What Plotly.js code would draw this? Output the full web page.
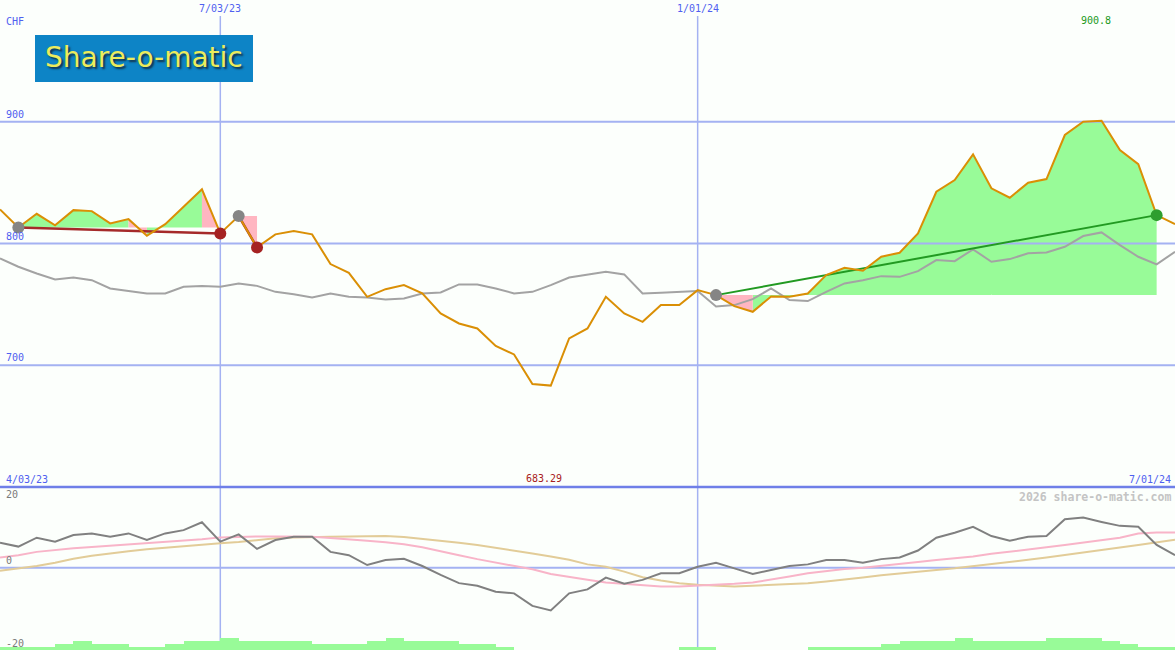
<!DOCTYPE html>
<html>
<head>
<meta charset="utf-8">
<script src="https://cdn.plot.ly/plotly-3.0.1.min.js"></script>
<style>
html,body{margin:0;padding:0;background:#fcfffc;}
#chart{width:1175px;height:650px;}
</style>
</head>
<body>
<div id="chart"></div>
<script>
// ---------- DATA ----------
const dates = [
 '2023-04-10','2023-04-17','2023-04-24','2023-05-01','2023-05-08','2023-05-15','2023-05-22','2023-05-29',
 '2023-06-05','2023-06-12','2023-06-19','2023-06-26','2023-07-03','2023-07-10','2023-07-17','2023-07-24',
 '2023-07-31','2023-08-07','2023-08-14','2023-08-21','2023-08-28','2023-09-04','2023-09-11','2023-09-18',
 '2023-09-25','2023-10-02','2023-10-09','2023-10-16','2023-10-23','2023-10-30','2023-11-06','2023-11-13',
 '2023-11-20','2023-11-27','2023-12-04','2023-12-11','2023-12-18','2023-12-25','2024-01-01','2024-01-08',
 '2024-01-15','2024-01-22','2024-01-29','2024-02-05','2024-02-12','2024-02-19','2024-02-26','2024-03-04',
 '2024-03-11','2024-03-18','2024-03-25','2024-04-01','2024-04-08','2024-04-15','2024-04-22','2024-04-29',
 '2024-05-06','2024-05-13','2024-05-20','2024-05-27','2024-06-03','2024-06-10','2024-06-17','2024-06-24',
 '2024-07-01'];

// share price (CHF)
const price = [828.0, 813.2, 824.4, 814.9, 827.4, 826.6, 816.5, 820.0, 806.3, 815.9,
 830.2, 844.5, 808.3, 822.5, 796.8, 807.5, 810.2, 807.5, 783.1, 775.9,
 756.2, 762.5, 765.8, 759.0, 742.6, 734.3, 730.2, 715.9, 708.9, 684.5,
 683.29, 722.0, 730.2, 756.2, 742.6, 735.7, 749.4, 749.4, 761.7, 757.6,
 748.6, 743.9, 756.5, 756.2, 758.9, 774.0, 780.0, 777.6, 789.1, 792.4,
 808.3, 842.5, 852.1, 873.2, 845.3, 837.6, 849.9, 852.9, 889.1, 900.0,
 900.8, 876.7, 865.2, 823.3, 815.9];

// grey comparison line (main panel)
const bench = [787.8, 780.9, 775.4, 770.5, 772.1, 769.9, 763.1, 761.1, 759.0, 759.0,
 764.4, 765.0, 764.4, 767.2, 765.2, 760.3, 758.4, 755.7, 759.0, 756.2,
 755.7, 754.1, 754.9, 759.0, 759.8, 766.4, 766.4, 763.1, 759.0, 760.3,
 765.8, 772.1, 774.6, 776.7, 774.6, 759.0, 759.5, 760.3, 760.9, 748.3,
 749.4, 754.3, 763.1, 753.5, 752.7, 760.3, 767.2, 769.9, 773.2, 772.6,
 777.3, 786.4, 785.5, 795.2, 785.0, 787.2, 791.9, 792.7, 797.3, 806.1,
 809.1, 798.7, 789.1, 782.8, 793.2];

// lower panel: momentum (dark grey), fast average (pink), slow average (tan)
const momentum = [7.6, 6.4, 9.1, 7.9, 9.9, 10.4, 9.4, 10.4, 8.4, 10.4,
 11.4, 13.8, 7.9, 10.1, 5.7, 8.4, 9.4, 9.4, 4.8, 3.8,
 0.8, 2.3, 2.7, 0.5, -2.2, -4.7, -5.5, -7.3, -7.8, -11.6,
 -13.0, -7.8, -6.6, -3.0, -4.9, -3.7, -1.7, -1.7, 0.3, 1.5,
 -0.2, -1.9, -0.7, 0.5, 1.0, 2.3, 2.3, 1.5, 2.6, 3.1,
 5.2, 9.1, 10.6, 12.4, 9.6, 8.2, 9.4, 9.6, 14.7, 15.2,
 13.9, 12.7, 12.4, 6.9, 3.8];
const fastAvg = [3.1, 3.8, 4.8, 5.4, 5.9, 6.3, 6.7, 7.0, 7.4, 7.8,
 8.1, 8.6, 9.2, 9.4, 9.5, 9.5, 9.5, 9.4, 9.0, 8.7,
 8.2, 7.7, 7.1, 6.2, 4.9, 3.8, 2.6, 1.5, 0.6, -0.5,
 -1.9, -2.9, -3.7, -4.5, -4.9, -5.5, -5.7, -5.7, -5.5, -5.2,
 -4.9, -4.5, -3.7, -2.7, -1.7, -1.0, -0.4, 0.0, 0.5, 1.1,
 1.7, 2.3, 2.8, 3.4, 4.2, 4.8, 5.5, 6.2, 6.9, 7.6,
 8.3, 9.1, 10.4, 10.7, 10.7];
const slowAvg = [-0.9, -0.2, 0.5, 1.5, 2.7, 3.6, 4.4, 5.0, 5.6, 6.1,
 6.6, 7.0, 7.4, 7.8, 8.4, 8.9, 9.2, 9.4, 9.4, 9.5,
 9.6, 9.6, 9.3, 8.8, 8.2, 7.6, 6.9, 6.1, 5.2, 4.3,
 3.4, 2.4, 1.0, 0.3, -1.2, -2.9, -3.9, -4.7, -5.2, -5.5,
 -5.7, -5.5, -5.3, -5.0, -4.7, -4.2, -3.7, -3.0, -2.3, -1.7,
 -1.2, -0.7, -0.2, 0.4, 1.0, 1.7, 2.4, 3.1, 3.8, 4.5,
 5.3, 6.1, 6.9, 7.7, 8.5];

// weekly activity bars (one per week, starting at that week)
const activity = [1,1,1,2,3,2,2,1,1,2, 3,3,4,3,3,3,3,2,2,2, 3,4,3,3,3,2,2,1,0,0,
 0,0,0,0,0,0,0,1,1,0, 0,0,0,0,1,1,1,1,2,3, 3,3,4,3,3,3,3,4,4,4, 3,2,1,1];

// trend signals (index into dates)
const trendStart = [1, 13, 39];
const trendEnd   = [12, 14, 63];
// fill colour per weekly segment inside each trend: g = green, p = pink
const trendSegFill = ['ggggggpgggp', 'p', 'ppgggggggggggggggggggggg'];

// axes labels
const priceTicks = [700, 800, 900];
const lowerTicks = [20, 0, -20];
const markDates  = ['2023-07-03', '2024-01-01'];
const markLabels = ['7/03/23', '1/01/24'];
const startLabel = '4/03/23';
const endLabel   = '7/01/24';
const currency   = 'CHF';

// ---------- BUILD ----------
const W = 1175, H = 650;
const PX = x => x / W, PY = y => 1 - y / H;
const xRange = ['2023-04-10', '2024-07-01'];
const BLUE = '#a4b2f2', LABEL = '#4f60f0', MONO = 'DejaVu Sans Mono';
const splitY = PY(487);

const traces = [];

// fills
const fillG = {x: [], y: []}, fillP = {x: [], y: []};
trendStart.forEach((s, t) => {
  const base = price[s];
  for (let i = s; i < trendEnd[t]; i++) {
    const tgt = trendSegFill[t][i - s] === 'g' ? fillG : fillP;
    tgt.x.push(dates[i], dates[i + 1], dates[i + 1], dates[i], null);
    tgt.y.push(price[i], price[i + 1], base, base, null);
  }
});
traces.push({x: fillG.x, y: fillG.y, mode: 'lines', fill: 'toself', fillcolor: '#98fb98',
  line: {width: 0}, hoverinfo: 'skip', connectgaps: false});
traces.push({x: fillP.x, y: fillP.y, mode: 'lines', fill: 'toself', fillcolor: '#ffb6c1',
  line: {width: 0}, hoverinfo: 'skip', connectgaps: false});

// horizontal price grid lines (drawn above fills)
priceTicks.forEach(v => traces.push({x: xRange, y: [v, v], mode: 'lines',
  line: {color: BLUE, width: 2}, hoverinfo: 'skip'}));

// grey comparison
traces.push({x: dates, y: bench, mode: 'lines', line: {color: '#a3a3a3', width: 2}, hoverinfo: 'skip'});

// trend lines
trendStart.forEach((s, t) => {
  const e = trendEnd[t];
  const up = price[e] >= price[s];
  traces.push({x: [dates[s], dates[e]], y: [price[s], price[e]], mode: 'lines',
    line: {color: up ? '#229a22' : '#a52a2a', width: up ? 2 : 2.5}, hoverinfo: 'skip'});
});

// price
traces.push({x: dates, y: price, mode: 'lines', line: {color: '#da8f05', width: 2}, hoverinfo: 'skip'});

// markers
const mX = [], mY = [], mC = [];
trendStart.forEach((s, t) => {
  const e = trendEnd[t];
  mX.push(dates[s]); mY.push(price[s]); mC.push('#858585');
  mX.push(dates[e]); mY.push(price[e]); mC.push(price[e] >= price[s] ? '#2e9e2e' : '#a52222');
});
traces.push({x: mX, y: mY, mode: 'markers', marker: {size: 12, color: mC}, hoverinfo: 'skip'});

// lower panel
traces.push({x: dates.slice(0, activity.length), y: activity, type: 'bar', yaxis: 'y3',
  marker: {color: '#98fb98', line: {width: 0}}, width: 7 * 86400000, offset: 0, hoverinfo: 'skip'});
traces.push({x: dates, y: slowAvg, yaxis: 'y2', mode: 'lines', line: {color: '#e2cc98', width: 2}, hoverinfo: 'skip'});
traces.push({x: dates, y: fastAvg, yaxis: 'y2', mode: 'lines', line: {color: '#f8b4c8', width: 2}, hoverinfo: 'skip'});
traces.push({x: dates, y: momentum, yaxis: 'y2', mode: 'lines', line: {color: '#808080', width: 2}, hoverinfo: 'skip'});

// shapes
const shapes = [];
markDates.forEach(d => shapes.push({type: 'line', xref: 'x', yref: 'paper', x0: d, x1: d,
  y0: 0, y1: PY(16), line: {color: BLUE, width: 1.5}, layer: 'below'}));
shapes.push({type: 'line', xref: 'paper', yref: 'y2', x0: 0, x1: 1, y0: 0, y1: 0,
  line: {color: BLUE, width: 2}, layer: 'below'});
shapes.push({type: 'line', xref: 'paper', yref: 'paper', x0: 0, x1: 1, y0: splitY, y1: splitY,
  line: {color: '#6f7fe8', width: 2.5}, layer: 'above'});
shapes.push({type: 'rect', xref: 'paper', yref: 'paper', x0: PX(35), x1: PX(253), y0: PY(82), y1: PY(35),
  fillcolor: '#0d84c6', line: {width: 0}, layer: 'above'});

// annotations
const ann = [];
const txt = (text, x, y, xa, ya, color, extra) => Object.assign({text, x, y, xref: 'paper', yref: 'paper',
  xanchor: xa, yanchor: ya, showarrow: false, font: {family: MONO, size: 10, color}, borderpad: 0}, extra || {});

priceTicks.forEach(v => ann.push({text: String(v), xref: 'paper', yref: 'y', x: PX(5), y: v,
  xanchor: 'left', yanchor: 'bottom', showarrow: false, borderpad: 0, yshift: 1,
  font: {family: MONO, size: 10, color: LABEL}}));
lowerTicks.forEach(v => ann.push({text: String(v), xref: 'paper', yref: 'y2', x: PX(5), y: v,
  xanchor: 'left', yanchor: v < 0 ? 'top' : 'bottom', showarrow: false, borderpad: 0, yshift: v < 0 ? -3 : 1,
  font: {family: MONO, size: 10, color: '#7a7a7a'}}));
markDates.forEach((d, i) => ann.push({text: markLabels[i], xref: 'x', yref: 'paper', x: d, y: 1,
  xanchor: 'center', yanchor: 'top', yshift: -2, showarrow: false, borderpad: 0,
  font: {family: MONO, size: 10, color: LABEL}}));
ann.push(txt(currency, PX(5), PY(21.5), 'left', 'middle', LABEL));
ann.push(txt(startLabel, PX(5), PY(479), 'left', 'middle', LABEL));
ann.push(txt(endLabel, PX(1172), PY(479), 'right', 'middle', LABEL));

// max / min values
let iMax = 0, iMin = 0;
price.forEach((v, i) => { if (v > price[iMax]) iMax = i; if (v < price[iMin]) iMin = i; });
ann.push({text: price[iMax].toFixed(1), xref: 'x', yref: 'paper', x: dates[iMax], y: PY(21),
  xanchor: 'center', yanchor: 'middle', xshift: -6, showarrow: false, borderpad: 0,
  font: {family: MONO, size: 10, color: '#229a22'}});
ann.push({text: price[iMin].toFixed(2), xref: 'x', yref: 'paper', x: dates[iMin], y: PY(478.5),
  xanchor: 'center', yanchor: 'middle', xshift: -7, showarrow: false, borderpad: 0,
  font: {family: MONO, size: 10, color: '#a82020'}});

ann.push(txt('2026 share-o-matic.com', PX(1172), PY(497), 'right', 'middle', '#c4c4c4',
  {font: {family: MONO, size: 11.5, color: '#c4c4c4', weight: 'bold'}}));
ann.push(txt('Share-o-matic', PX(144), PY(58), 'center', 'middle', '#e8e85a',
  {font: {family: 'DejaVu Sans', size: 28, color: '#ecec5c', shadow: '2px 2px 2px #12324a'}}));

const layout = {
  width: W, height: H,
  margin: {l: 0, r: 0, t: 0, b: 0, pad: 0},
  paper_bgcolor: '#fcfffc', plot_bgcolor: '#fcfffc',
  showlegend: false, hovermode: false, bargap: 0,
  xaxis: {type: 'date', range: xRange, visible: false, showgrid: false, zeroline: false, fixedrange: true},
  yaxis: {domain: [splitY, 1], range: [600, 1000], visible: false, showgrid: false, zeroline: false},
  yaxis2: {domain: [0, splitY], range: [-25, 24.5], visible: false, showgrid: false, zeroline: false},
  yaxis3: {overlaying: 'y2', range: [0, 54.33], visible: false, showgrid: false, zeroline: false},
  shapes: shapes,
  annotations: ann
};

Plotly.newPlot('chart', traces, layout, {displayModeBar: false, staticPlot: true});
</script>
</body>
</html>
